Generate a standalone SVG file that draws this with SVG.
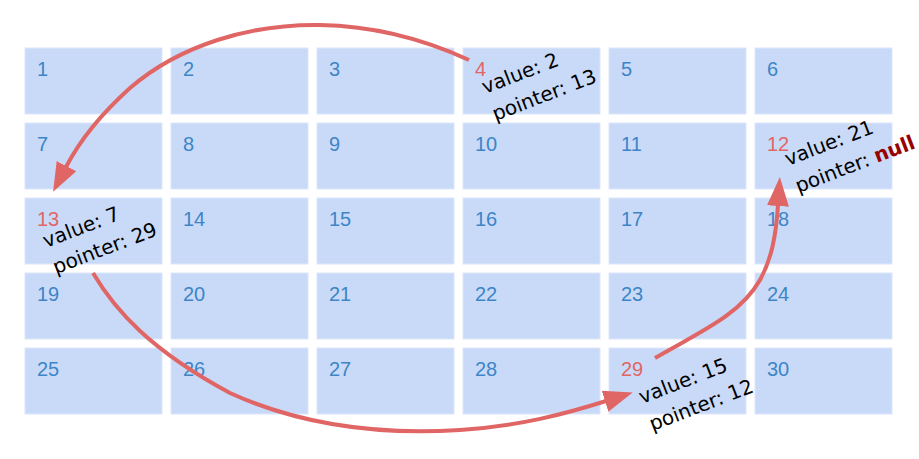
<svg xmlns="http://www.w3.org/2000/svg" width="919" height="459" viewBox="0 0 919 459">
<style>
.cell{fill:#c9daf8;stroke:#dbe6fa;stroke-width:1}
.num{font-family:"Liberation Sans",Arial,sans-serif;font-size:20px;fill:#3d85c6}
.hi{fill:#e06666}
.lbl{font-family:"DejaVu Sans","Noto Sans",sans-serif;font-size:20px;fill:#000}
.null{font-weight:bold;fill:#990000}
.conn{fill:none;stroke:#e06666;stroke-width:4;stroke-linecap:butt}
</style>
<defs>
<marker id="ah" markerUnits="userSpaceOnUse" markerWidth="30" markerHeight="24" refX="1" refY="11" orient="auto" viewBox="0 0 30 24">
<path d="M0,0 L29,11 L0,22 z" fill="#e06666"/>
</marker>
</defs>
<rect width="919" height="459" fill="#fff"/>
<g id="grid">
<g id="cell1"><rect class="cell" x="25" y="48" width="137" height="66"/><text class="num" x="37" y="76">1</text></g>
<g id="cell2"><rect class="cell" x="171" y="48" width="137" height="66"/><text class="num" x="183" y="76">2</text></g>
<g id="cell3"><rect class="cell" x="317" y="48" width="137" height="66"/><text class="num" x="329" y="76">3</text></g>
<g id="cell4"><rect class="cell" x="463" y="48" width="137" height="66"/><text class="num hi" x="475" y="76">4</text></g>
<g id="cell5"><rect class="cell" x="609" y="48" width="137" height="66"/><text class="num" x="621" y="76">5</text></g>
<g id="cell6"><rect class="cell" x="755" y="48" width="137" height="66"/><text class="num" x="767" y="76">6</text></g>
<g id="cell7"><rect class="cell" x="25" y="123" width="137" height="66"/><text class="num" x="37" y="151">7</text></g>
<g id="cell8"><rect class="cell" x="171" y="123" width="137" height="66"/><text class="num" x="183" y="151">8</text></g>
<g id="cell9"><rect class="cell" x="317" y="123" width="137" height="66"/><text class="num" x="329" y="151">9</text></g>
<g id="cell10"><rect class="cell" x="463" y="123" width="137" height="66"/><text class="num" x="475" y="151">10</text></g>
<g id="cell11"><rect class="cell" x="609" y="123" width="137" height="66"/><text class="num" x="621" y="151">11</text></g>
<g id="cell12"><rect class="cell" x="755" y="123" width="137" height="66"/><text class="num hi" x="767" y="151">12</text></g>
<g id="cell13"><rect class="cell" x="25" y="198" width="137" height="66"/><text class="num hi" x="37" y="226">13</text></g>
<g id="cell14"><rect class="cell" x="171" y="198" width="137" height="66"/><text class="num" x="183" y="226">14</text></g>
<g id="cell15"><rect class="cell" x="317" y="198" width="137" height="66"/><text class="num" x="329" y="226">15</text></g>
<g id="cell16"><rect class="cell" x="463" y="198" width="137" height="66"/><text class="num" x="475" y="226">16</text></g>
<g id="cell17"><rect class="cell" x="609" y="198" width="137" height="66"/><text class="num" x="621" y="226">17</text></g>
<g id="cell18"><rect class="cell" x="755" y="198" width="137" height="66"/><text class="num" x="767" y="226">18</text></g>
<g id="cell19"><rect class="cell" x="25" y="273" width="137" height="66"/><text class="num" x="37" y="301">19</text></g>
<g id="cell20"><rect class="cell" x="171" y="273" width="137" height="66"/><text class="num" x="183" y="301">20</text></g>
<g id="cell21"><rect class="cell" x="317" y="273" width="137" height="66"/><text class="num" x="329" y="301">21</text></g>
<g id="cell22"><rect class="cell" x="463" y="273" width="137" height="66"/><text class="num" x="475" y="301">22</text></g>
<g id="cell23"><rect class="cell" x="609" y="273" width="137" height="66"/><text class="num" x="621" y="301">23</text></g>
<g id="cell24"><rect class="cell" x="755" y="273" width="137" height="66"/><text class="num" x="767" y="301">24</text></g>
<g id="cell25"><rect class="cell" x="25" y="348" width="137" height="66"/><text class="num" x="37" y="376">25</text></g>
<g id="cell26"><rect class="cell" x="171" y="348" width="137" height="66"/><text class="num" x="183" y="376">26</text></g>
<g id="cell27"><rect class="cell" x="317" y="348" width="137" height="66"/><text class="num" x="329" y="376">27</text></g>
<g id="cell28"><rect class="cell" x="463" y="348" width="137" height="66"/><text class="num" x="475" y="376">28</text></g>
<g id="cell29"><rect class="cell" x="609" y="348" width="137" height="66"/><text class="num hi" x="621" y="376">29</text></g>
<g id="cell30"><rect class="cell" x="755" y="348" width="137" height="66"/><text class="num" x="767" y="376">30</text></g>
</g>
<g id="connectors">
<path class="conn" marker-end="url(#ah)" d="M469,60 C430,42 380,26 320,25 C250,24 180,45 130,88 C100,115 80,140 66,167"/>
<path class="conn" marker-end="url(#ah)" d="M93,273 C115,310 150,350 230,393 C300,425 380,435 460,430 C520,426 565,414 606,401"/>
<path class="conn" marker-end="url(#ah)" d="M655,358 C700,332 740,315 760,280 C772,258 776,235 778,205"/>
</g>
<g id="labels">
<text class="lbl" transform="translate(485,94) rotate(-21)"><tspan x="0" y="0">value: 2</tspan><tspan x="0" dy="29">pointer: 13</tspan></text>
<text class="lbl" transform="translate(46,248) rotate(-21)"><tspan x="0" y="0">value: 7</tspan><tspan x="0" dy="28">pointer: 29</tspan></text>
<text class="lbl" transform="translate(788,166) rotate(-21)"><tspan x="0" y="0">value: 21</tspan><tspan x="0" dy="29">pointer: <tspan class="null">null</tspan></tspan></text>
<text class="lbl" transform="translate(642,404) rotate(-21)"><tspan x="0" y="0">value: 15</tspan><tspan x="0" dy="29">pointer: 12</tspan></text>
</g>
</svg>
